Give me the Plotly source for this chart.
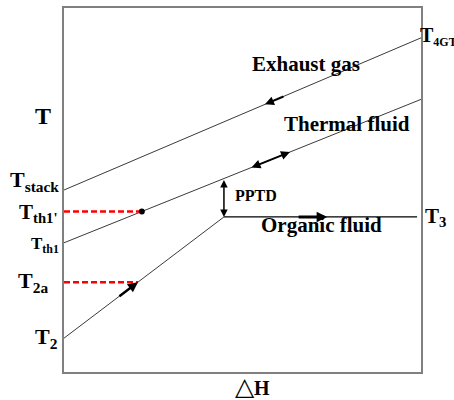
import numpy as np
import plotly.graph_objects as go

# ---- data (ΔH in %, T in % of scale) ----
exhaust_H = [0, 100]
exhaust_T = [50.0, 91.8]
thermal_H = [0, 100]
thermal_T = [35.5, 74.9]
organic_H = [0, 44.8, 98.9]
organic_T = [9.3, 42.6, 42.6]

th1p_H = 21.8   # T_th1' point on thermal fluid line
t2a_H = 20.7    # T_2a point on organic line

exh_arrow_H = [61.9, 56.3]
th_arrow_H = [52.1, 63.3]
org_arrow_H = [65.3, 73.7]
org2_arrow_H = [15.1, 20.7]

def on(xs, ys, h):
    return float(np.interp(h, xs, ys))

th1p_T = on(thermal_H, thermal_T, th1p_H)
t2a_T = on(organic_H, organic_T, t2a_H)
pinch_H = organic_H[1]
pinch_T = organic_T[1]
pinch_top = on(thermal_H, thermal_T, pinch_H)

FONT = "Liberation Serif, Times New Roman, serif"
LINE = "#3a3a3a"

fig = go.Figure()
fig.add_trace(go.Scatter(x=exhaust_H, y=exhaust_T, mode="lines",
                         line=dict(color=LINE, width=1), hoverinfo="skip"))
fig.add_trace(go.Scatter(x=thermal_H, y=thermal_T, mode="lines",
                         line=dict(color=LINE, width=1), hoverinfo="skip"))
fig.add_trace(go.Scatter(x=organic_H[:2], y=organic_T[:2], mode="lines",
                         line=dict(color=LINE, width=1), hoverinfo="skip"))
fig.add_trace(go.Scatter(x=organic_H[1:], y=organic_T[1:], mode="lines",
                         line=dict(color="black", width=1.2), hoverinfo="skip"))
# red dashed guides
fig.add_trace(go.Scatter(x=[0, th1p_H], y=[th1p_T, th1p_T], mode="lines",
                         line=dict(color="red", width=2.5, dash="6px,3px"), hoverinfo="skip"))
fig.add_trace(go.Scatter(x=[0, t2a_H], y=[t2a_T, t2a_T], mode="lines",
                         line=dict(color="red", width=2.5, dash="6px,3px"), hoverinfo="skip"))
fig.add_trace(go.Scatter(x=[th1p_H], y=[th1p_T], mode="markers",
                         marker=dict(color="black", size=6), hoverinfo="skip"))

def arrow(x0, y0, x1, y1, w=2.2, side="end", head=2, size=0.9):
    fig.add_annotation(x=x1, y=y1, ax=x0, ay=y0, xref="x", yref="y",
                       axref="x", ayref="y", text="", showarrow=True,
                       arrowhead=head, arrowsize=size, arrowwidth=w,
                       arrowcolor="black", arrowside=side, standoff=0, startstandoff=0)

arrow(exh_arrow_H[0], on(exhaust_H, exhaust_T, exh_arrow_H[0]),
      exh_arrow_H[1], on(exhaust_H, exhaust_T, exh_arrow_H[1]), w=2)
arrow(th_arrow_H[0], on(thermal_H, thermal_T, th_arrow_H[0]),
      th_arrow_H[1], on(thermal_H, thermal_T, th_arrow_H[1]), w=2, side="end+start")
arrow(org_arrow_H[0], pinch_T, org_arrow_H[1], pinch_T, w=3, size=0.7)
arrow(org2_arrow_H[0], on(organic_H, organic_T, org2_arrow_H[0]),
      org2_arrow_H[1], on(organic_H, organic_T, org2_arrow_H[1]), w=2.5, size=0.8)
arrow(pinch_H, pinch_top, pinch_H, pinch_T, w=1.5, side="end+start", size=1)

def label(x, y, text, size, xanchor="center", yanchor="middle", bold=True):
    t = f"<b>{text}</b>" if bold else text
    fig.add_annotation(x=x / 100, y=y / 100, xref="paper", yref="paper", text=t,
                       showarrow=False, xanchor=xanchor, yanchor=yanchor,
                       font=dict(family=FONT, size=size, color="black"))

label(-5.9, 70.2, "T", 24)
label(-0.8, 52.5, "T<sub>stack</sub>", 22, xanchor="right")
label(99.2, 92.3, "T<sub><span style='font-size:12px'>4GT</span></sub>", 20, xanchor="left")
label(67.8, 84.6, "Exhaust gas", 21)
label(79.3, 68.0, "Thermal fluid", 21)
label(47.3, 48.4, "PPTD", 16, xanchor="left")
label(72.0, 40.4, "Organic fluid", 21)
label(100.6, 42.5, "T<sub>3</sub>", 21, xanchor="left")
label(-1.1, 43.8, "T<sub>th1'</sub>", 21, xanchor="right")
label(-0.8, 35.0, "T<sub>th1</sub>", 17, xanchor="right")
label(-3.9, 24.8, "T<sub>2a</sub>", 22, xanchor="right")
label(-1.1, 9.3, "T<sub>2</sub>", 22, xanchor="right")
fig.add_annotation(x=0.529, y=-0.082, xref="paper", yref="paper", showarrow=False,
                   text="<span style='font-size:25px'>△</span><b>H</b>",
                   font=dict(family=FONT, size=20, color="black"))

axis = dict(range=[0, 100], showline=True, mirror=True, linecolor="#808080",
            linewidth=1.5, showticklabels=False, ticks="", showgrid=False,
            zeroline=False, fixedrange=True)
fig.update_layout(width=454, height=400, showlegend=False,
                  margin=dict(l=64, r=33, t=6, b=28),
                  paper_bgcolor="white", plot_bgcolor="white",
                  xaxis=axis, yaxis=axis)
fig.write_html("out.html", config={"displayModeBar": False},
               post_script="document.body.style.margin='0';")
